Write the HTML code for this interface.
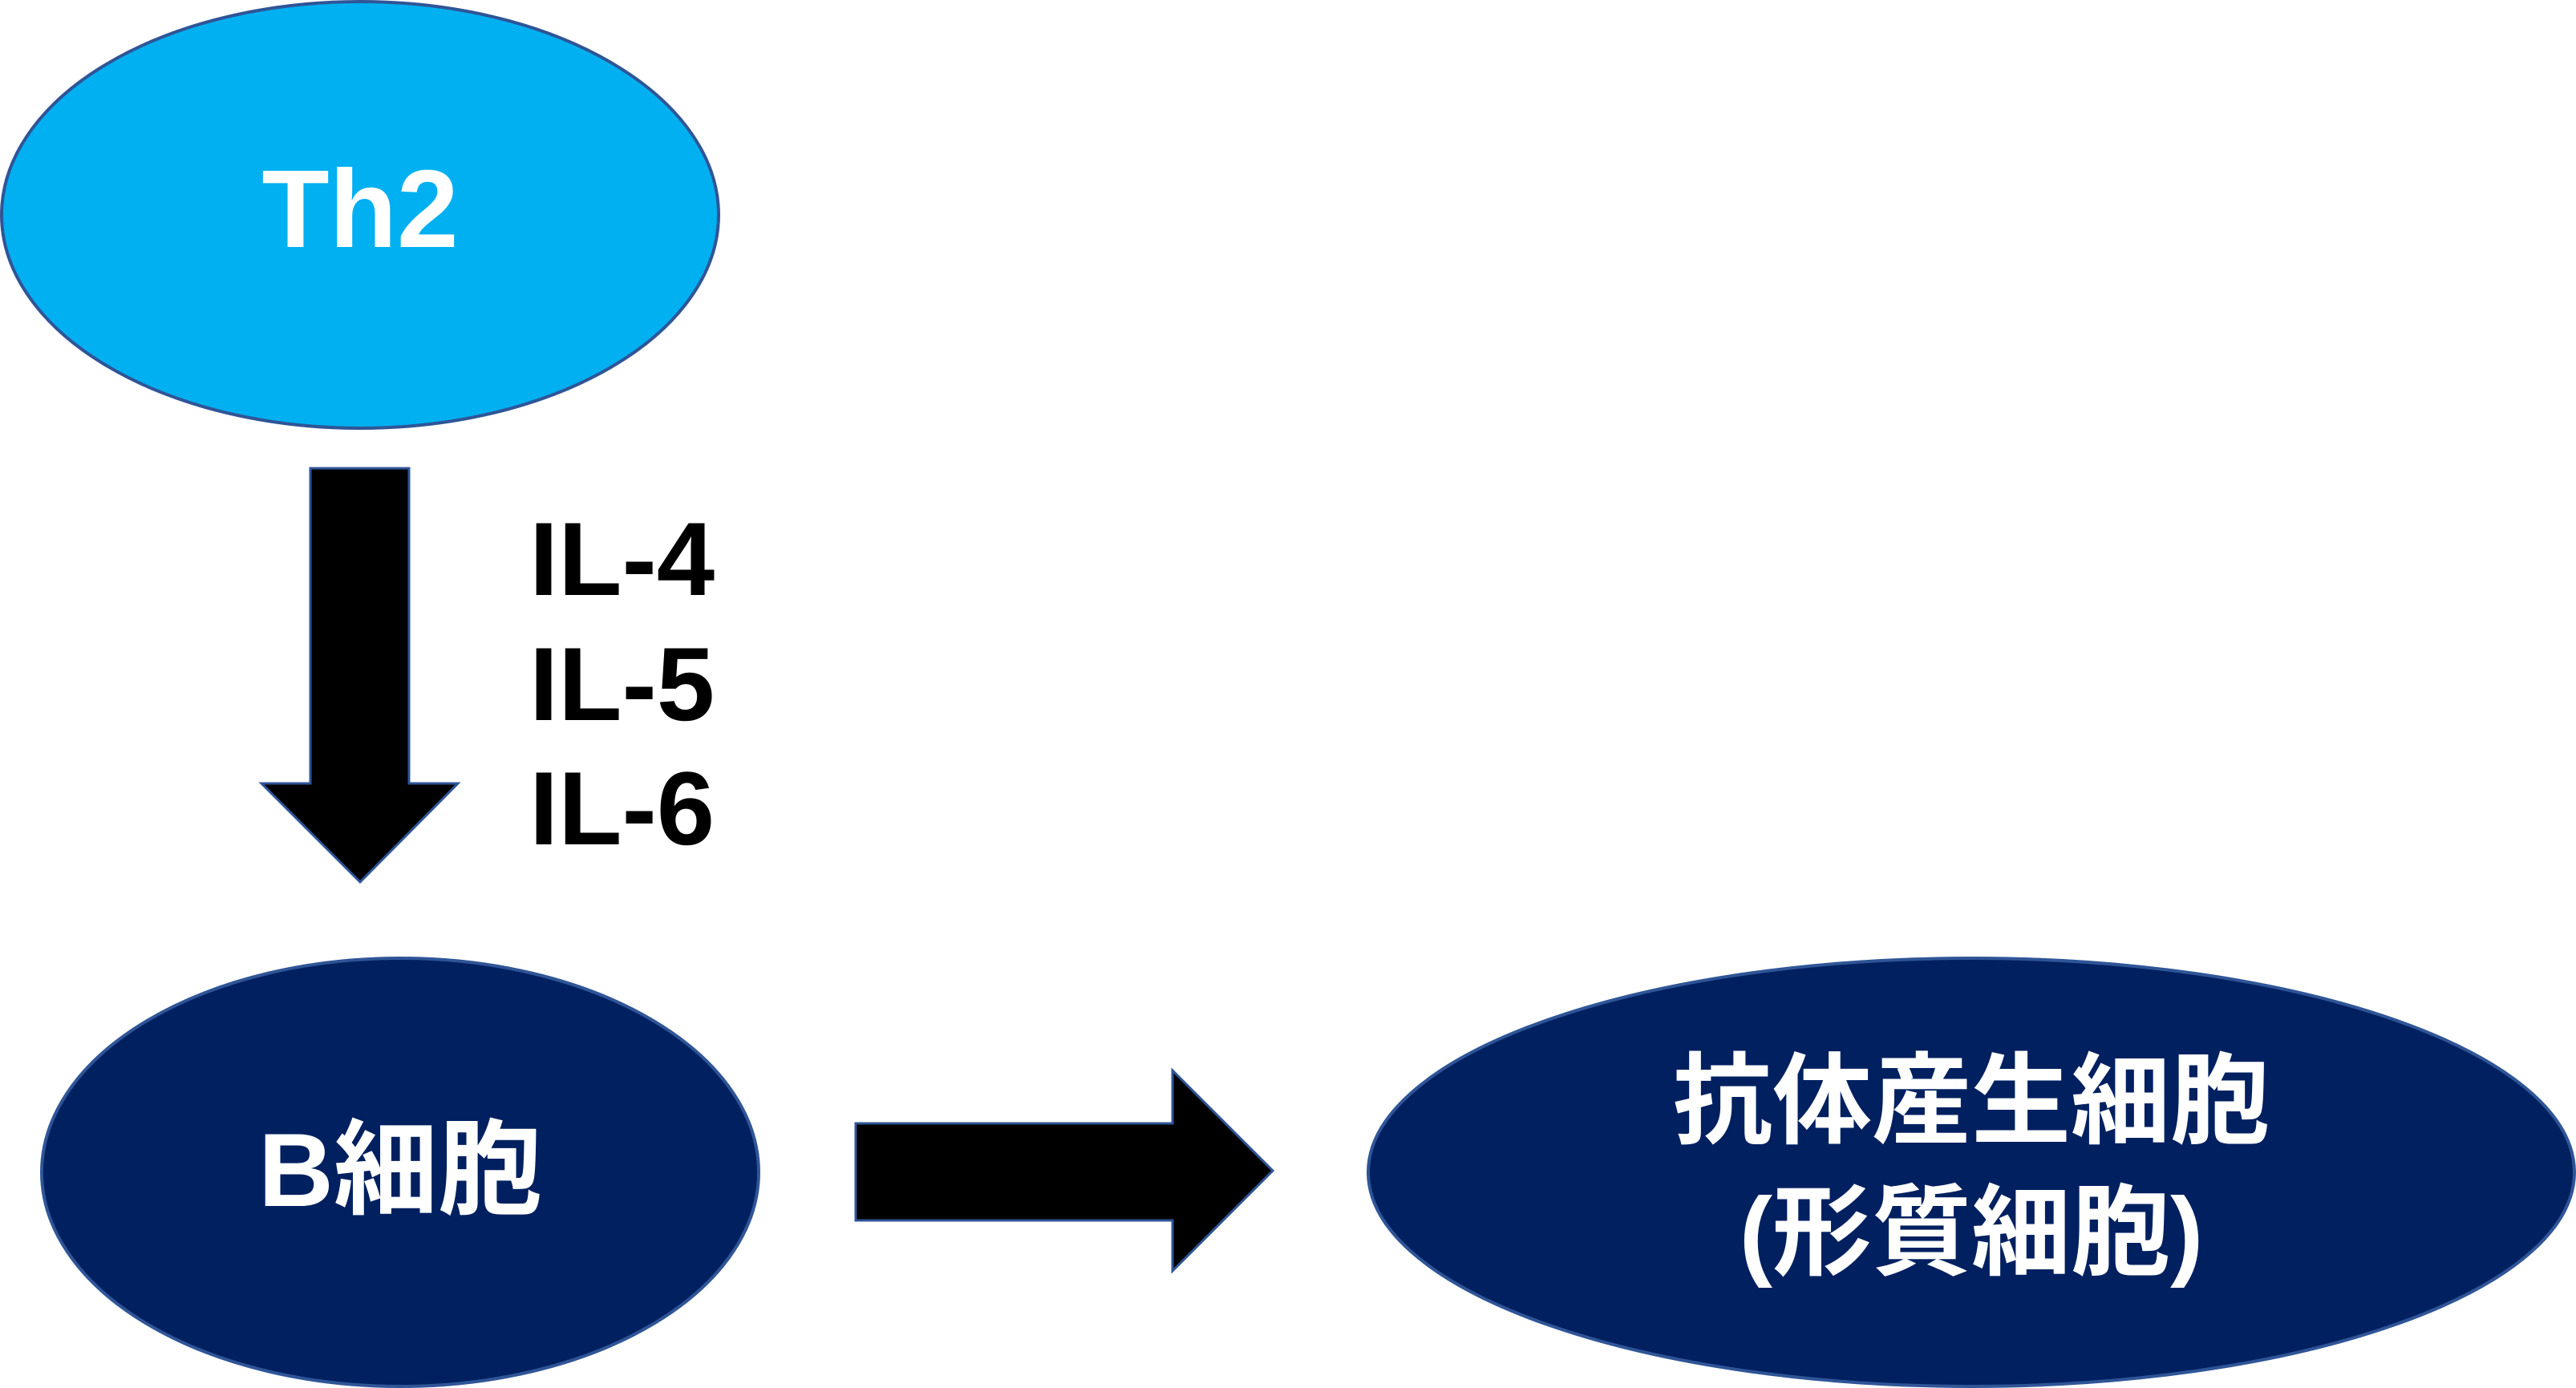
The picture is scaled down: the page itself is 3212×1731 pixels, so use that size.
<!DOCTYPE html>
<html><head><meta charset="utf-8"><style>
html,body{margin:0;padding:0;background:#fff;width:3212px;height:1731px;overflow:hidden}
</style></head><body>
<svg width="3212" height="1731" viewBox="0 0 3212 1731" xmlns="http://www.w3.org/2000/svg">
<ellipse cx="449" cy="268" rx="447" ry="266" fill="#00b0f0" stroke="#2f5597" stroke-width="4"/>
<text x="449" y="308" font-family="Liberation Sans, sans-serif" font-weight="bold" font-size="138" fill="#fff" text-anchor="middle">Th2</text>
<polygon points="387,584 510,584 510,977 571,977 449,1100 326,977 387,977" fill="#000" stroke="#2f5597" stroke-width="3"/>
<g font-family="Liberation Sans, sans-serif" font-weight="bold" font-size="130" fill="#000">
<text x="660" y="742">IL-4</text>
<text x="660" y="898">IL-5</text>
<text x="660" y="1053">IL-6</text>
</g>
<ellipse cx="499" cy="1462" rx="447" ry="267" fill="#002060" stroke="#2f5597" stroke-width="4"/>
<text x="499" y="1504" font-family="Liberation Sans, 'Noto Sans CJK JP', sans-serif" font-weight="bold" font-size="130" fill="#fff" text-anchor="middle">B細胞</text>
<polygon points="1067,1401 1462,1401 1462,1335 1587,1460 1462,1585 1462,1522 1067,1522" fill="#000" stroke="#2f5597" stroke-width="3"/>
<ellipse cx="2458" cy="1462" rx="752" ry="267" fill="#002060" stroke="#2f5597" stroke-width="4"/>
<g font-family="Liberation Sans, 'Noto Sans CJK JP', sans-serif" font-weight="bold" font-size="124" fill="#fff" text-anchor="middle">
<text x="2458" y="1416">抗体産生細胞</text>
<text x="2458" y="1580">(形質細胞)</text>
</g>
</svg>
</body></html>
